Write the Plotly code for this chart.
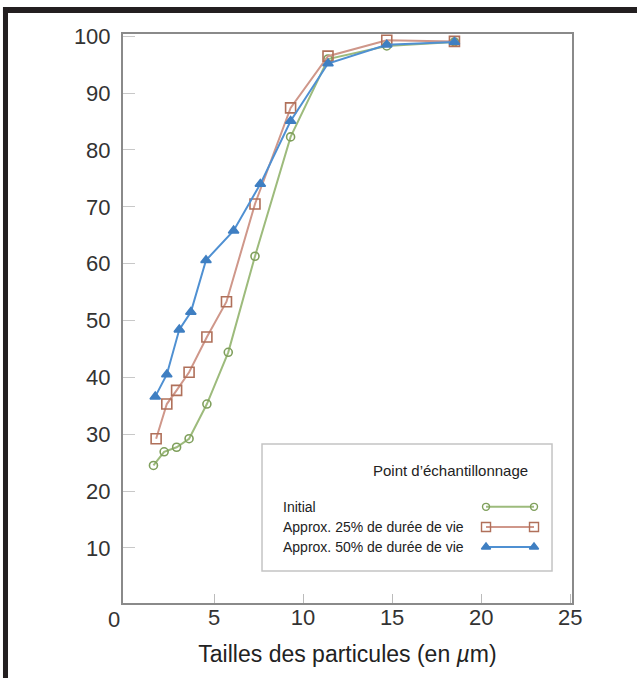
import plotly.graph_objects as go

# ---- data ----
size_initial = [1.6, 2.2, 2.9, 3.6, 4.6, 5.8, 7.3, 9.3, 11.4, 14.7, 18.5]
pct_initial = [24.5, 26.9, 27.7, 29.2, 35.3, 44.4, 61.3, 82.3, 96.0, 98.3, 99.0]

size_25 = [1.75, 2.35, 2.9, 3.6, 4.6, 5.7, 7.3, 9.3, 11.4, 14.7, 18.5]
pct_25 = [29.2, 35.3, 37.7, 40.9, 47.1, 53.3, 70.5, 87.4, 96.5, 99.3, 99.1]

size_50 = [1.7, 2.35, 3.05, 3.7, 4.55, 6.1, 7.6, 9.3, 11.4, 14.7, 18.5]
pct_50 = [36.6, 40.5, 48.4, 51.5, 60.6, 65.8, 74.0, 85.1, 95.2, 98.5, 99.0]

series_names = ["Initial", "Approx. 25% de durée de vie", "Approx. 50% de durée de vie"]
legend_title = "Point d’échantillonnage"
x_title = "Tailles des particules (en <i>µ</i>m)"
x_ticks = [5, 10, 15, 20, 25]
x_origin_label = "0"
y_ticks = [10, 20, 30, 40, 50, 60, 70, 80, 90, 100]

GREEN_LINE, GREEN_MK = "#9dbb7c", "#7f9f5c"
RED_LINE, RED_MK = "#cf978a", "#b0705a"
BLUE_LINE, BLUE_MK = "#4f90d2", "#3f7fc2"
FONT = "Liberation Sans, Arial, Helvetica, sans-serif"

styles = [
    dict(line=GREEN_LINE, mk=GREEN_MK, symbol="circle-open", size=8),
    dict(line=RED_LINE, mk=RED_MK, symbol="square-open", size=10),
    dict(line=BLUE_LINE, mk=BLUE_MK, symbol="triangle-up", size=9),
]
series = [(size_initial, pct_initial), (size_25, pct_25), (size_50, pct_50)]

fig = go.Figure()
for (xs, ys), name, st in zip(series, series_names, styles):
    fig.add_trace(go.Scatter(
        x=xs, y=ys, name=name, mode="lines+markers",
        line=dict(color=st["line"], width=2),
        marker=dict(symbol=st["symbol"], size=st["size"], color=st["mk"],
                    line=dict(color=st["mk"], width=1.6)),
        showlegend=False,
    ))

# ---- custom legend (text left, sample glyphs right) on an overlay axis in paper units ----
L = dict(x0=0.3096, x1=0.9555, y0=0.0562, y1=0.2794)
row_y = [0.169, 0.1336, 0.0985]
gx0, gx1 = 0.8085, 0.9154
for ry, st in zip(row_y, styles):
    fig.add_trace(go.Scatter(
        x=[gx0, gx1], y=[ry, ry], mode="lines+markers", xaxis="x2", yaxis="y2",
        line=dict(color=st["line"], width=2),
        marker=dict(symbol=st["symbol"], size=st["size"] - 1, color=st["mk"],
                    line=dict(color=st["mk"], width=1.4)),
        showlegend=False, hoverinfo="skip",
    ))

shapes = [
    dict(type="rect", xref="paper", yref="paper", x0=L["x0"], x1=L["x1"], y0=L["y0"], y1=L["y1"],
         line=dict(color="#c4c4c4", width=1.5), fillcolor="white", layer="below"),
    # thick black frame (top and left edges of the page)
    dict(type="rect", xref="paper", yref="paper", x0=-0.2673, x1=1.1448, y0=1.0369, y1=1.0475,
         line=dict(width=0), fillcolor="#231f20"),
    dict(type="rect", xref="paper", yref="paper", x0=-0.2673, x1=-0.2561, y0=-0.1318, y1=1.0475,
         line=dict(width=0), fillcolor="#231f20"),
]

annotations = [
    dict(text=legend_title, xref="paper", yref="paper", x=0.9065, y=0.2337,
         xanchor="right", yanchor="middle", showarrow=False,
         font=dict(family=FONT, size=15, color="#222")),
    # origin label, set slightly left of the corner as in the reference
    dict(text=x_origin_label, xref="x", yref="paper", x=0, y=0, xshift=-11, yshift=-16,
         xanchor="center", yanchor="middle", showarrow=False,
         font=dict(family=FONT, size=22, color="#333")),
]
for ry, name in zip(row_y, series_names):
    annotations.append(dict(text=name, xref="paper", yref="paper", x=0.3519, y=ry,
                            xanchor="left", yanchor="middle", showarrow=False,
                            font=dict(family=FONT, size=14, color="#222")))

fig.update_layout(
    width=637, height=678,
    margin=dict(l=123, r=65, t=34, b=75),
    paper_bgcolor="white", plot_bgcolor="white",
    font=dict(family=FONT, color="#333"),
    shapes=shapes, annotations=annotations,
    xaxis=dict(range=[-0.11, 25.1], tickvals=x_ticks, ticks="inside", ticklen=9,
               tickcolor="#bbbbbb", tickwidth=1, showgrid=False, zeroline=False,
               showline=True, linecolor="#8a8a8a", linewidth=2, mirror=True,
               ticklabelstandoff=-6,
               tickfont=dict(family=FONT, size=22, color="#333"),
               title=dict(text=x_title, font=dict(family=FONT, size=23, color="#222"), standoff=16)),
    yaxis=dict(range=[0.3, 100.4], tickvals=y_ticks, ticks="inside", ticklen=12,
               tickcolor="#c8c8c8", tickwidth=1, showgrid=False, zeroline=False,
               showline=True, linecolor="#8a8a8a", linewidth=2, mirror=True,
               ticklabelstandoff=6,
               tickfont=dict(family=FONT, size=22, color="#333")),
    xaxis2=dict(domain=[0, 1], range=[0, 1], overlaying="x", visible=False, anchor="y2"),
    yaxis2=dict(domain=[0, 1], range=[0, 1], overlaying="y", visible=False, anchor="x2"),
)

fig.write_html("out.html", config={"displayModeBar": False},
               post_script="document.body.style.margin='0';document.body.style.overflow='hidden';")
